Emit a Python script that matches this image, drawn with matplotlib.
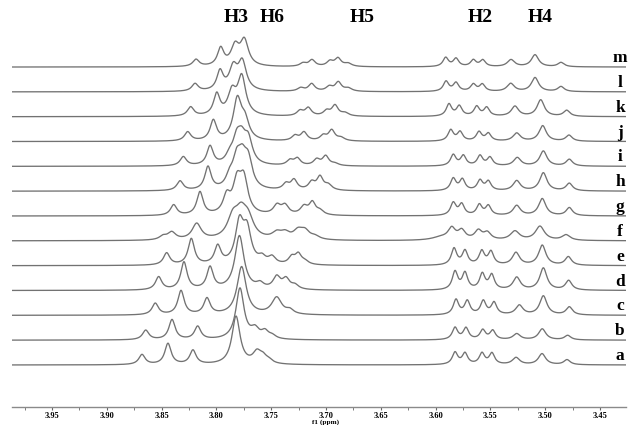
import numpy as np
import matplotlib
matplotlib.use("Agg")
import matplotlib.pyplot as plt
from matplotlib.ticker import MultipleLocator, FormatStrFormatter

# ---- data: peak lists (ppm, height, half-width) for each spectrum ----
labels = ["a", "b", "c", "d", "e", "f", "g", "h", "i", "j", "k", "l", "m"]

peaks_a = [(3.8679, 10, .0035), (3.8442, 21, .0035), (3.8214, 14, .0035),
           (3.7821, 48, .0045), (3.7630, 11, .0045), (3.7575, 6, .004), (3.7520, 3, .004),
           (3.5823, 12, .003), (3.5732, 11, .003), (3.5577, 11, .003), (3.5486, 11, .003),
           (3.5266, 7, .004), (3.5029, 11, .004), (3.4801, 5, .0035)]
peaks_b = [(3.8645, 9.5, .0035), (3.8405, 20, .0035), (3.8171, 13, .0035),
           (3.7785, 51, .0045), (3.7648, 9, .0045), (3.7557, 7, .004), (3.7490, 3, .004),
           (3.5823, 12, .003), (3.5723, 11.5, .003), (3.5570, 9.5, .003), (3.5479, 9, .003),
           (3.5260, 6, .004), (3.5027, 11, .004), (3.4795, 4.5, .0035)]
peaks_c = [(3.8558, 11.5, .0035), (3.8323, 24, .0035), (3.8086, 16, .0035),
           (3.7770, 48, .005), (3.7450, 17, .0055), (3.7330, 4, .004),
           (3.5814, 15, .003), (3.5711, 13.5, .003), (3.5565, 13.5, .003), (3.5467, 12, .003),
           (3.5236, 9.5, .004), (3.5017, 19, .004), (3.4780, 8, .0035)]
peaks_d = [(3.8527, 13, .0035), (3.8296, 27.5, .0035), (3.8058, 22, .0035),
           (3.7790, 54, .005), (3.7602, 5, .004), (3.7450, 12, .004), (3.7365, 10, .004), (3.7283, 4, .004),
           (3.5823, 18, .003), (3.5732, 16.5, .003), (3.5574, 15.5, .003), (3.5488, 14.5, .003),
           (3.5260, 12.5, .004), (3.5017, 22, .004), (3.4786, 9.5, .0035)]
peaks_e = [(3.8454, 12, .0035), (3.8229, 26, .0035), (3.7988, 18, .0035),
           (3.7790, 40, .0045), (3.7720, 32, .0045), (3.7584, 6, .004), (3.7493, 7, .004),
           (3.7313, 7, .0035), (3.7253, 10, .0035), (3.7192, 3, .004),
           (3.5832, 16.5, .003), (3.5732, 14, .003), (3.5579, 13.5, .003), (3.5495, 13, .003),
           (3.5267, 12.5, .004), (3.5027, 20, .004), (3.4789, 8.5, .0035)]
peaks_f = [(3.8487, 3.5, .004), (3.8408, 7.5, .0045), (3.8180, 16, .005),
           (3.7850, 20, .006), (3.7775, 22, .006), (3.7710, 18, .006),
           (3.7450, 6, .005), (3.7374, 6, .005), (3.7256, 8, .005), (3.7192, 8, .005), (3.7100, 3, .005),
           (3.5950, 3, .010), (3.5853, 11, .004), (3.5762, 9, .004), (3.5610, 9, .004), (3.5528, 7, .004),
           (3.5276, 9, .005), (3.5048, 14, .005), (3.4810, 5.5, .0045)]
peaks_g = [(3.8390, 10.5, .0035), (3.8150, 23, .0035), (3.7906, 17, .004),
           (3.7812, 30, .0045), (3.7750, 33, .0045),
           (3.7447, 9, .004), (3.7374, 9, .004), (3.7201, 8, .004), (3.7125, 12, .0035), (3.7055, 4, .004),
           (3.5839, 12.5, .003), (3.5762, 11, .003), (3.5601, 10.5, .003), (3.5519, 9.5, .003),
           (3.5260, 10, .004), (3.5027, 17, .004), (3.4780, 8, .0035)]
peaks_h = [(3.8332, 9.5, .0035), (3.8077, 23, .0035), (3.7880, 10, .004),
           (3.7815, 26, .0045), (3.7764, 24, .0045), (3.7709, 26, .0045),
           (3.7365, 6, .0035), (3.7292, 10, .0035), (3.7131, 7.5, .0035), (3.7055, 13, .0035), (3.6979, 5, .004),
           (3.5839, 12, .003), (3.5756, 11, .003), (3.5595, 10, .003), (3.5519, 9, .003),
           (3.5260, 10, .004), (3.5017, 18, .004), (3.4780, 7.5, .0035)]
peaks_i = [(3.8302, 9, .0035), (3.8058, 19, .0035), (3.7880, 7, .004),
           (3.7815, 22, .0045), (3.7769, 20, .0045), (3.7709, 23, .0045),
           (3.7329, 5, .0035), (3.7262, 7, .0035), (3.7085, 6, .0035), (3.7003, 9.5, .0035), (3.6918, 2, .004),
           (3.5839, 11, .003), (3.5747, 10, .003), (3.5595, 10, .003), (3.5504, 8.3, .003),
           (3.5255, 8.3, .004), (3.5017, 15, .004), (3.4780, 6.7, .0035)]
peaks_j = [(3.8262, 9, .0035), (3.8028, 20, .0035),
           (3.7809, 40, .0045), (3.7740, 18, .0045),
           (3.7283, 5, .0035), (3.7201, 8.5, .0035), (3.7025, 5, .0035), (3.6948, 10.5, .0035), (3.6863, 3, .004),
           (3.5862, 11, .003), (3.5777, 9, .003), (3.5604, 9, .003), (3.5519, 7.5, .003),
           (3.5260, 8, .004), (3.5023, 15.5, .004), (3.4783, 6, .0035)]
peaks_k = [(3.8235, 9, .0035), (3.7997, 21, .0035), (3.7858, 22, .0045), (3.7769, 38, .0045),
           (3.7237, 5, .0035), (3.7162, 8, .0035), (3.6994, 5, .0035), (3.6918, 10.5, .0035), (3.6827, 3, .004),
           (3.5878, 12, .003), (3.5784, 10, .003), (3.5625, 9.5, .003), (3.5534, 8.5, .003),
           (3.5276, 10, .004), (3.5041, 16.5, .004), (3.4804, 6, .0035)]
peaks_l = [(3.8195, 7.5, .0035), (3.7967, 19, .0035), (3.7846, 22, .0045), (3.7764, 28, .0045),
           (3.7231, 3.3, .0035), (3.7131, 7.5, .0035), (3.6970, 4.5, .0035), (3.6888, 9, .0035), (3.6797, 3, .004),
           (3.5905, 10, .003), (3.5814, 8.5, .003), (3.5656, 7, .003), (3.5574, 7, .003),
           (3.5315, 8, .004), (3.5093, 14, .004), (3.4856, 5, .0035)]
peaks_m = [(3.8186, 7, .0035), (3.7961, 17.5, .0035), (3.7830, 19, .0045), (3.7745, 25, .0045),
           (3.7210, 3.2, .0035), (3.7128, 6.5, .0035), (3.6964, 5, .0035), (3.6891, 8, .0035), (3.6799, 3, .004),
           (3.5908, 9, .003), (3.5814, 8, .003), (3.5656, 6.5, .003), (3.5570, 6.5, .003),
           (3.5312, 7, .004), (3.5093, 12, .004), (3.4856, 4.3, .0035)]

spectra = [peaks_a, peaks_b, peaks_c, peaks_d, peaks_e, peaks_f, peaks_g,
           peaks_h, peaks_i, peaks_j, peaks_k, peaks_l, peaks_m]

proton_labels = ["H3", "H6", "H5", "H2", "H4"]
proton_pos = [3.7821, 3.7493, 3.6672, 3.5595, 3.5047]

tick_values = [3.95, 3.90, 3.85, 3.80, 3.75, 3.70, 3.65, 3.60, 3.55, 3.50, 3.45]

# ---- layout ----
W, H = 634, 425
fig = plt.figure(figsize=(W / 100, H / 100), dpi=100)
x0_px, x1_px = 12, 626
axis_y_px = 407
ax = fig.add_axes([x0_px / W, (H - axis_y_px) / H, (x1_px - x0_px) / W, axis_y_px / H])

def px2ppm(x):
    return 3.99745 - x / 1096.0

xmin, xmax = px2ppm(x0_px), px2ppm(x1_px)
ax.set_xlim(xmin, xmax)
ax.set_ylim(0, axis_y_px)

x = np.linspace(xmin, xmax, 4000)
base0 = 42.0
step = 24.83
line_color = "#727272"

for i, (lab, pk) in enumerate(zip(labels, spectra)):
    y = np.zeros_like(x)
    for c, h, w in pk:
        y += h / (1 + ((x - c) / w) ** 2)
    off = base0 + i * step
    ax.plot(x, y + off, color=line_color, lw=0.95, solid_joinstyle="round")
    ax.text(px2ppm(620), off + 9, lab, ha="center", va="center",
            fontsize=12.5, fontweight="bold", family="Liberation Serif", color="black")

for lab, p in zip(proton_labels, proton_pos):
    ax.text(p, axis_y_px - 18, lab, ha="center", va="center", fontsize=14,
            fontweight="bold", family="Liberation Serif", color="black")

for s in ["top", "left", "right"]:
    ax.spines[s].set_visible(False)
ax.spines["bottom"].set_color("#8a8a8a")
ax.spines["bottom"].set_linewidth(1.0)
ax.set_yticks([])
ax.set_xticks(tick_values)
ax.xaxis.set_major_formatter(FormatStrFormatter("%.2f"))
ax.xaxis.set_minor_locator(MultipleLocator(0.025))
ax.tick_params(axis="x", which="major", length=2.5, width=0.8, color="#666666",
               pad=1.0, labelsize=6)
ax.tick_params(axis="x", which="minor", length=2, width=0.6, color="#666666")
for t in ax.get_xticklabels():
    t.set_fontfamily("Liberation Serif")
    t.set_fontweight("bold")
ax.annotate("f1 (ppm)", xy=(3.70, 0), xycoords=("data", "axes fraction"),
            xytext=(0, -15.5), textcoords="offset pixels",
            ha="center", va="center", fontsize=5.2, fontweight="bold",
            family="Liberation Serif", annotation_clip=False)

fig.savefig("out.png", dpi=100)
